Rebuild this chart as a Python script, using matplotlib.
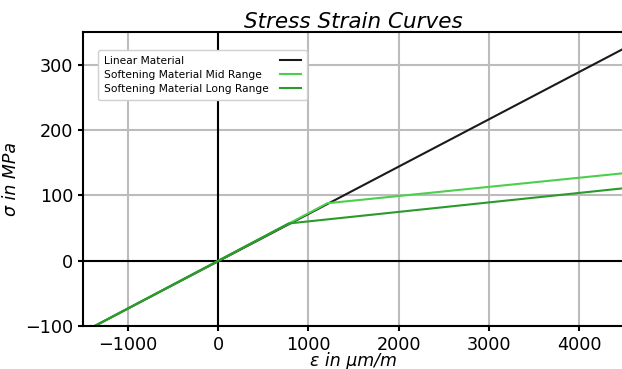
import matplotlib.pyplot as plt
import numpy as np

# strain in um/m, stress in MPa
linear_strain = [-1370, 4500]
linear_stress = [-100, 325]

mid_strain = [-1370, 1210, 4500]
mid_stress = [-100, 88, 134]

long_strain = [-1370, 780, 4500]
long_stress = [-100, 57, 111]

fig = plt.figure(figsize=(6.22, 3.69), dpi=100)
ax = fig.add_axes([0.1334, 0.1165, 0.87, 0.7965])

ax.grid(True, color='#bcbcbc', linewidth=1.5)
ax.set_axisbelow(True)
ax.axhline(0, color='black', linewidth=1.5, zorder=1.5)
ax.axvline(0, color='black', linewidth=1.5, zorder=1.5)

ax.plot(linear_strain, linear_stress, color='#1a1a1a', linewidth=1.5, label='Linear Material')
ax.plot(mid_strain, mid_stress, color='#4ccf4c', linewidth=1.5, label='Softening Material Mid Range')
ax.plot(long_strain, long_stress, color='#2a9a2a', linewidth=1.5, label='Softening Material Long Range')

ax.set_xlim(-1500, 4500)
ax.set_ylim(-100, 350)
ax.set_xticks([-1000, 0, 1000, 2000, 3000, 4000])
ax.set_yticks([-100, 0, 100, 200, 300])
ax.tick_params(labelsize=12.7, width=1.5, length=3.5)
for s in ax.spines.values():
    s.set_linewidth(1.5)

ax.set_title('Stress Strain Curves', fontsize=15.5, fontstyle='italic', pad=-1)
ax.set_xlabel('ε in μm/m', fontsize=12.5, fontstyle='italic', labelpad=-1)
ax.set_ylabel('σ in MPa', fontsize=12.5, fontstyle='italic')

leg = ax.legend(loc='upper left', fontsize=7.7, markerfirst=False, bbox_to_anchor=(0.028, 0.94),
                borderaxespad=0, handlelength=2, handletextpad=1.0, borderpad=0.55,
                framealpha=1, edgecolor='#d0d0d0', labelspacing=0.4)

# labels left-aligned, handles kept in a column on the right
fig.canvas.draw()
renderer = fig.canvas.get_renderer()
cols = leg._legend_handle_box.get_children()
rows = [r for c in cols for r in c.get_children()]
w = max(r.get_bbox(renderer).width for r in rows)
for r in rows:
    r.mode = 'expand'
    r.width = w
for c in cols:
    c.align = 'left'

fig.savefig('out.png', dpi=100)
